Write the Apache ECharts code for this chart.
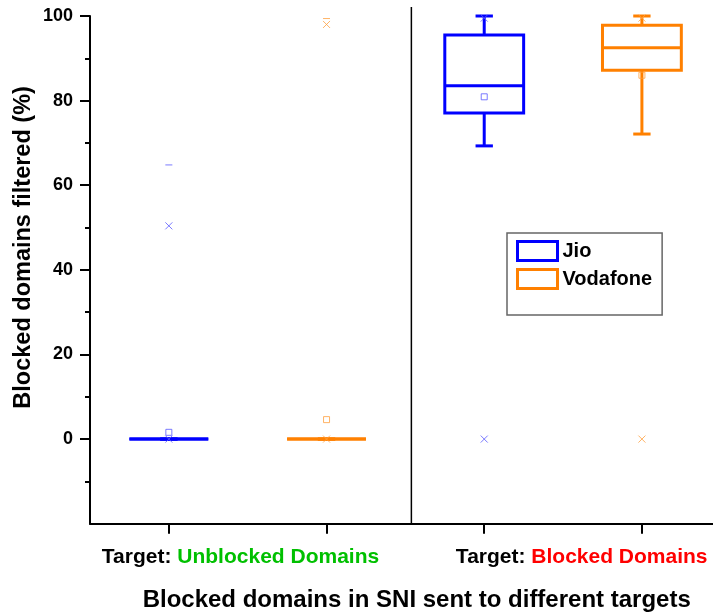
<!DOCTYPE html>
<html>
<head>
<meta charset="utf-8">
<script src="https://cdn.jsdelivr.net/npm/echarts@6/dist/echarts.min.js"></script>
<style>html,body{margin:0;padding:0;background:#fff}#c{width:713px;height:615px}</style>
</head>
<body>
<div id="c"></div>
<script>
// ---- data ----
const groups = ['Unblocked Domains', 'Blocked Domains'];
const groupColors = ['#00c000', '#ff0000'];
const categories = ['Jio | Unblocked', 'Vodafone | Unblocked', 'Jio | Blocked', 'Vodafone | Blocked'];
const operators = ['Jio', 'Vodafone'];
// [whiskerLow, Q1, median, Q3, whiskerHigh] per target group
const jioBox = [[0, 0, 0, 0, 0], [69.3, 77.1, 83.5, 95.5, 100]];
const vodaBox = [[0, 0, 0, 0, 0], [72.1, 87.2, 92.5, 97.8, 100]];
const jioMean = [1.6, 80.9];
const vodaMean = [4.6, 86.0];
const jioP1 = [0, 0];
const jioP99 = [50.4, 99.5];
const vodaP1 = [0, 0];
const vodaP99 = [98.0, 99.5];
const jioMax = [64.8, 100];
const vodaMax = [99.4, 100];
const yTicks = [0, 20, 40, 60, 80, 100];

// ---- chart ----
const FONT = '"Liberation Sans", Arial, sans-serif';
const JIO = '#0000ff', VODA = '#ff8000';
const JIO_L = '#5a5aff', VODA_L = '#ffa040';
const catIndex = (op, g) => g * 2 + op;

function renderBox(params, api) {
  const x = api.value(0);
  const lo = api.coord([x, api.value(1)]);
  const q1 = api.coord([x, api.value(2)]);
  const med = api.coord([x, api.value(3)]);
  const q3 = api.coord([x, api.value(4)]);
  const hi = api.coord([x, api.value(5)]);
  const band = api.size([1, 0])[0];
  const bw = band * 0.5, cw = band * 0.11;
  const cx = med[0];
  const st = { stroke: api.visual('color'), fill: null, lineWidth: 3 };
  return {
    type: 'group',
    children: [
      { type: 'line', shape: { x1: cx, y1: q1[1], x2: cx, y2: lo[1] }, style: st },
      { type: 'line', shape: { x1: cx - cw / 2, y1: lo[1], x2: cx + cw / 2, y2: lo[1] }, style: st },
      { type: 'line', shape: { x1: cx, y1: q3[1], x2: cx, y2: hi[1] }, style: st },
      { type: 'line', shape: { x1: cx - cw / 2, y1: hi[1], x2: cx + cw / 2, y2: hi[1] }, style: st },
      { type: 'rect', shape: { x: cx - bw / 2, y: q3[1], width: bw, height: q1[1] - q3[1] }, style: st },
      { type: 'line', shape: { x1: cx - bw / 2, y1: med[1], x2: cx + bw / 2, y2: med[1] }, style: st }
    ]
  };
}

function boxData(op, box) { return box.map((b, g) => [catIndex(op, g)].concat(b)); }
function ptData(op, arr) { return arr.map((v, g) => [catIndex(op, g), v]); }

const xSym = 'path://M0,0L10,10M10,0L0,10';
function scatter(name, data, symbol, size, color, z) {
  const filled = symbol === 'dash';
  return {
    type: 'scatter', name, data, z,
    symbol: filled ? 'rect' : symbol,
    symbolSize: size,
    silent: true,
    itemStyle: filled ? { color } : { color: 'rgba(0,0,0,0)', borderColor: color, borderWidth: 1 }
  };
}

const series = [
  { type: 'custom', name: operators[0], renderItem: renderBox, data: boxData(0, jioBox), color: JIO, z: 2,
    encode: { x: 0, y: [1, 2, 3, 4, 5] } },
  { type: 'custom', name: operators[1], renderItem: renderBox, data: boxData(1, vodaBox), color: VODA, z: 2,
    encode: { x: 0, y: [1, 2, 3, 4, 5] } },
  scatter(operators[0], ptData(0, jioMean), 'rect', 6, JIO_L, 3),
  scatter(operators[1], ptData(1, vodaMean), 'rect', 6, VODA_L, 3),
  scatter(operators[0], ptData(0, jioP1).concat(ptData(0, jioP99)), xSym, 7, JIO_L, 3),
  scatter(operators[1], ptData(1, vodaP1).concat(ptData(1, vodaP99)), xSym, 7, VODA_L, 3),
  scatter(operators[0], ptData(0, jioMax), 'dash', [7, 1], JIO_L, 1),
  scatter(operators[1], ptData(1, vodaMax), 'dash', [7, 1], VODA_L, 1)
];

const chart = echarts.init(document.getElementById('c'));
const gridLeft = 90, gridTop = 16, gridBottom = 91.3, gridRight = -7.75;
const plotW = 713 - gridLeft - gridRight;
const band = plotW / categories.length;

chart.setOption({
  animation: false,
  backgroundColor: '#fff',
  grid: { left: gridLeft, top: gridTop, right: gridRight, bottom: gridBottom, containLabel: false, outerBoundsMode: 'none' },
  legend: {
    orient: 'vertical', left: 507, top: 233,
    padding: [7, 10, 25, 9], itemGap: 6, itemWidth: 40, itemHeight: 19,
    borderColor: '#666', borderWidth: 1.5, backgroundColor: '#fff',
    textStyle: { fontFamily: FONT, fontWeight: 'bold', fontSize: 20, color: '#000' },
    data: [
      { name: operators[0], icon: 'rect', itemStyle: { color: '#fff', borderColor: JIO, borderWidth: 3 } },
      { name: operators[1], icon: 'rect', itemStyle: { color: '#fff', borderColor: VODA, borderWidth: 3 } }
    ],
    selectedMode: false
  },
  xAxis: {
    type: 'category', data: categories, boundaryGap: true,
    axisLine: { onZero: false, lineStyle: { color: '#000', width: 2 } },
    axisTick: { show: true, alignWithLabel: true, interval: 0, length: 10, lineStyle: { color: '#000', width: 2 } },
    axisLabel: { show: false },
    splitLine: { show: false }
  },
  yAxis: {
    type: 'value', min: -20, max: 100, interval: 20,
    axisLine: { show: true, lineStyle: { color: '#000', width: 2 } },
    axisTick: { show: true, length: 10, customValues: yTicks, lineStyle: { color: '#000', width: 2 } },
    minorTick: { show: true, splitNumber: 2, length: 5, lineStyle: { color: '#000', width: 2 } },
    axisLabel: {
      margin: 17, fontFamily: FONT, fontWeight: 'bold', fontSize: 18, color: '#000',
      formatter: v => (yTicks.indexOf(v) >= 0 ? String(v) : '')
    },
    splitLine: { show: false }
  },
  graphic: [
    { type: 'line', silent: true, z: 10,
      shape: { x1: gridLeft + band * 2 + 6, y1: 7, x2: gridLeft + band * 2 + 6, y2: 524 },
      style: { stroke: '#000', lineWidth: 1.5 } },
    { type: 'text', x: 240.5, y: 557, silent: true,
      style: { text: '{a|Target: }{g0|' + groups[0] + '}', align: 'center', verticalAlign: 'middle',
        rich: { a: { fontFamily: FONT, fontWeight: 'bold', fontSize: 21, fill: '#000' },
                g0: { fontFamily: FONT, fontWeight: 'bold', fontSize: 21, fill: groupColors[0] } } } },
    { type: 'text', x: 581.7, y: 557, silent: true,
      style: { text: '{a|Target: }{g1|' + groups[1] + '}', align: 'center', verticalAlign: 'middle',
        rich: { a: { fontFamily: FONT, fontWeight: 'bold', fontSize: 21, fill: '#000' },
                g1: { fontFamily: FONT, fontWeight: 'bold', fontSize: 21, fill: groupColors[1] } } } },
    { type: 'text', x: 416.7, y: 600, silent: true,
      style: { text: 'Blocked domains in SNI sent to different targets', align: 'center', verticalAlign: 'middle',
        fontFamily: FONT, fontWeight: 'bold', fontSize: 24, fill: '#000' } },
    { type: 'text', x: 23.5, y: 247.4, rotation: Math.PI / 2, silent: true,
      style: { text: 'Blocked domains filtered (%)', align: 'center', verticalAlign: 'middle',
        fontFamily: FONT, fontWeight: 'bold', fontSize: 23.5, fill: '#000' } }
  ],
  series
});
</script>
</body>
</html>
